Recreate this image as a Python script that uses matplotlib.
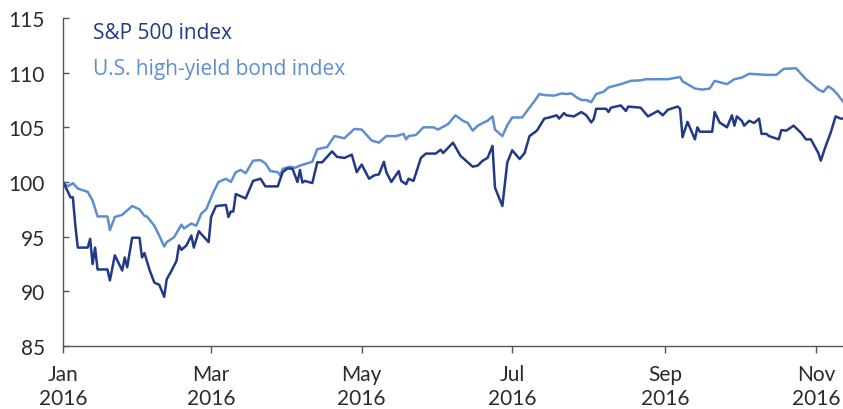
import matplotlib
matplotlib.use("Agg")
import matplotlib.pyplot as plt
import pandas as pd

plt.rcParams['font.family'] = ['Lato', 'DejaVu Sans']

sp_dates = ["2016-01-01","2016-01-03","2016-01-04","2016-01-05","2016-01-06","2016-01-07","2016-01-11","2016-01-12",
    "2016-01-13","2016-01-14","2016-01-15","2016-01-19","2016-01-20","2016-01-22","2016-01-25","2016-01-26","2016-01-27",
    "2016-01-29","2016-02-01","2016-02-02","2016-02-03","2016-02-05","2016-02-07","2016-02-09","2016-02-11","2016-02-12",
    "2016-02-14","2016-02-16","2016-02-17","2016-02-18","2016-02-20","2016-02-22","2016-02-23","2016-02-25","2016-02-29",
    "2016-03-01","2016-03-03","2016-03-07","2016-03-08","2016-03-09","2016-03-10","2016-03-11","2016-03-13","2016-03-15",
    "2016-03-18","2016-03-21","2016-03-23","2016-03-28","2016-03-30","2016-04-01","2016-04-03","2016-04-05","2016-04-06",
    "2016-04-07","2016-04-08","2016-04-11","2016-04-13","2016-04-15","2016-04-19","2016-04-21","2016-04-24","2016-04-27",
    "2016-04-29","2016-05-01","2016-05-04","2016-05-06","2016-05-08","2016-05-10","2016-05-11","2016-05-13","2016-05-16",
    "2016-05-17","2016-05-19","2016-05-20","2016-05-22","2016-05-25","2016-05-27","2016-05-31","2016-06-02","2016-06-03",
    "2016-06-07","2016-06-10","2016-06-15","2016-06-17","2016-06-19","2016-06-21","2016-06-23","2016-06-24","2016-06-27",
    "2016-06-29","2016-07-01","2016-07-04","2016-07-06","2016-07-08","2016-07-11","2016-07-14","2016-07-16","2016-07-19",
    "2016-07-20","2016-07-22","2016-07-23","2016-07-26","2016-07-29","2016-07-31","2016-08-02","2016-08-03","2016-08-04",
    "2016-08-08","2016-08-09","2016-08-10","2016-08-14","2016-08-16","2016-08-17","2016-08-22","2016-08-25","2016-08-29",
    "2016-08-31","2016-09-02","2016-09-06","2016-09-07","2016-09-08","2016-09-10","2016-09-13","2016-09-14","2016-09-15",
    "2016-09-20","2016-09-21","2016-09-23","2016-09-26","2016-09-28","2016-09-29","2016-09-30","2016-10-02","2016-10-03",
    "2016-10-05","2016-10-07","2016-10-09","2016-10-10","2016-10-12","2016-10-13","2016-10-17","2016-10-18","2016-10-20",
    "2016-10-21","2016-10-23","2016-10-26","2016-10-28","2016-10-30","2016-11-02","2016-11-03","2016-11-05","2016-11-07",
    "2016-11-09","2016-11-11","2016-11-12"]
sp_values = [100.0,99.1,98.6,98.6,96.0,94.0,94.0,94.8,
    92.5,94.0,92.0,92.0,91.0,93.3,91.9,93.1,92.2,
    94.9,94.9,93.1,93.5,92.0,90.8,90.6,89.5,91.1,
    91.9,92.8,94.2,93.8,94.2,95.1,94.0,95.5,94.5,
    96.8,97.8,97.9,96.8,97.3,97.3,98.9,98.7,98.5,
    100.1,100.3,99.6,99.6,100.9,101.25,101.2,100.0,101.1,
    99.95,100.1,99.9,101.8,101.8,102.8,102.3,102.2,102.5,
    100.9,101.6,100.3,100.6,100.7,101.85,100.9,100.0,101.0,
    100.1,99.8,100.3,100.1,102.2,102.6,102.6,102.95,102.65,
    103.6,102.4,101.4,101.5,101.95,102.2,103.3,99.5,97.8,
    101.8,102.9,102.1,102.65,104.2,104.7,105.8,105.9,106.1,
    105.8,106.3,106.1,106.0,106.4,106.1,105.45,105.75,106.7,
    106.7,106.4,106.8,107.0,106.5,106.9,106.8,106.0,106.5,
    106.1,106.6,106.9,106.7,104.1,105.5,103.9,105.0,104.6,
    104.6,106.4,105.45,105.0,106.1,105.15,106.0,105.6,105.15,
    105.6,105.4,105.8,104.4,104.4,104.2,103.9,104.75,104.7,
    104.85,105.15,104.5,103.9,103.9,102.65,101.95,103.3,104.5,
    106.0,105.8,105.8]

hy_dates = ["2016-01-01","2016-01-03","2016-01-05","2016-01-07","2016-01-11","2016-01-13","2016-01-15","2016-01-19",
    "2016-01-20","2016-01-22","2016-01-25","2016-01-29","2016-02-01","2016-02-03","2016-02-04","2016-02-07","2016-02-09",
    "2016-02-11","2016-02-12","2016-02-15","2016-02-18","2016-02-19","2016-02-22","2016-02-24","2016-02-26","2016-02-28",
    "2016-03-02","2016-03-04","2016-03-07","2016-03-09","2016-03-11","2016-03-13","2016-03-15","2016-03-18","2016-03-21",
    "2016-03-23","2016-03-25","2016-03-28","2016-03-29","2016-03-30","2016-04-02","2016-04-04","2016-04-06","2016-04-11",
    "2016-04-13","2016-04-17","2016-04-20","2016-04-24","2016-04-28","2016-05-01","2016-05-05","2016-05-08","2016-05-11",
    "2016-05-15","2016-05-18","2016-05-19","2016-05-20","2016-05-23","2016-05-26","2016-05-30","2016-06-01","2016-06-05",
    "2016-06-08","2016-06-11","2016-06-13","2016-06-15","2016-06-17","2016-06-20","2016-06-21","2016-06-23","2016-06-24",
    "2016-06-27","2016-06-29","2016-07-01","2016-07-05","2016-07-08","2016-07-10","2016-07-12","2016-07-14","2016-07-18",
    "2016-07-21","2016-07-23","2016-07-25","2016-07-27","2016-07-29","2016-07-31","2016-08-02","2016-08-04","2016-08-07",
    "2016-08-09","2016-08-14","2016-08-18","2016-08-22","2016-08-24","2016-08-30","2016-09-02","2016-09-07","2016-09-08",
    "2016-09-10","2016-09-13","2016-09-16","2016-09-19","2016-09-21","2016-09-26","2016-09-29","2016-10-02","2016-10-05",
    "2016-10-12","2016-10-16","2016-10-19","2016-10-24","2016-10-28","2016-10-30","2016-11-02","2016-11-04","2016-11-06",
    "2016-11-08","2016-11-10","2016-11-12"]
hy_values = [100.0,99.6,99.9,99.4,99.1,98.3,96.85,96.85,
    95.6,96.8,97.0,97.8,97.5,96.9,96.85,96.0,95.1,
    94.1,94.5,94.95,96.1,95.75,96.2,96.0,97.1,97.5,
    99.1,100.0,100.3,100.0,100.9,101.1,100.8,101.95,102.0,
    101.7,101.0,100.9,100.6,101.2,101.4,101.3,101.5,101.85,
    103.0,103.2,104.2,104.0,104.85,104.8,103.8,103.6,104.2,
    104.2,104.4,103.9,104.2,104.3,105.0,105.0,104.8,105.3,
    106.1,105.6,105.4,104.7,105.15,105.5,105.6,106.0,104.8,
    104.2,105.2,105.9,105.9,106.8,107.4,108.05,107.95,107.9,
    108.1,108.05,108.1,107.75,107.5,107.5,107.3,108.05,108.25,
    108.65,108.95,109.25,109.3,109.4,109.4,109.4,109.6,109.2,
    108.95,108.55,108.45,108.55,109.25,108.95,109.4,109.55,109.9,
    109.8,109.8,110.35,110.4,109.4,109.05,108.45,108.25,108.75,
    108.45,107.95,107.35]

series_labels = ["S&P 500 index", "U.S. high-yield bond index"]
y_ticks = [85, 90, 95, 100, 105, 110, 115]
x_tick_dates = ["2016-01-01", "2016-03-01", "2016-05-01", "2016-07-01", "2016-09-01", "2016-11-01"]

dark = "#213a86"
light = "#5d8fd0"
txt = "#2b2b2b"
spine_c = "#555555"

fig = plt.figure(figsize=(8.43, 4.10), dpi=100)
ax = fig.add_axes([63/843, 63/410, 780/843, 328/410])

ax.plot(pd.to_datetime(hy_dates), hy_values, color=light, lw=1.8, solid_joinstyle='round')
ax.plot(pd.to_datetime(sp_dates), sp_values, color=dark, lw=1.8, solid_joinstyle='round')

ax.set_ylim(85, 115)
ax.set_xlim(pd.Timestamp("2016-01-01"), pd.Timestamp("2016-11-12"))
ax.set_yticks(y_ticks)
ax.set_yticklabels([str(v) for v in y_ticks])
xt = pd.to_datetime(x_tick_dates)
ax.set_xticks(xt)
ax.set_xticklabels([d.strftime("%b\n%Y") for d in xt], linespacing=1.22)

for s in ["top", "right"]:
    ax.spines[s].set_visible(False)
for s in ["left", "bottom"]:
    ax.spines[s].set_color(spine_c)
    ax.spines[s].set_linewidth(1.0)

ax.tick_params(axis='y', direction='in', length=4.5, width=1.0, color=spine_c,
               labelsize=15, labelcolor=txt, pad=13)
ax.tick_params(axis='x', direction='out', length=5, width=1.0, color=spine_c,
               labelsize=15, labelcolor=txt, pad=8)

legend_font = ['Open Sans', 'DejaVu Sans']
ax.text(30/780, (347-39)/328, series_labels[0], transform=ax.transAxes, family=legend_font,
        color=dark, fontsize=15, va='baseline', ha='left')
ax.text(30/780, (347-75)/328, series_labels[1], transform=ax.transAxes, family=legend_font,
        color=light, fontsize=15, va='baseline', ha='left')

fig.savefig("out.png", dpi=100)
